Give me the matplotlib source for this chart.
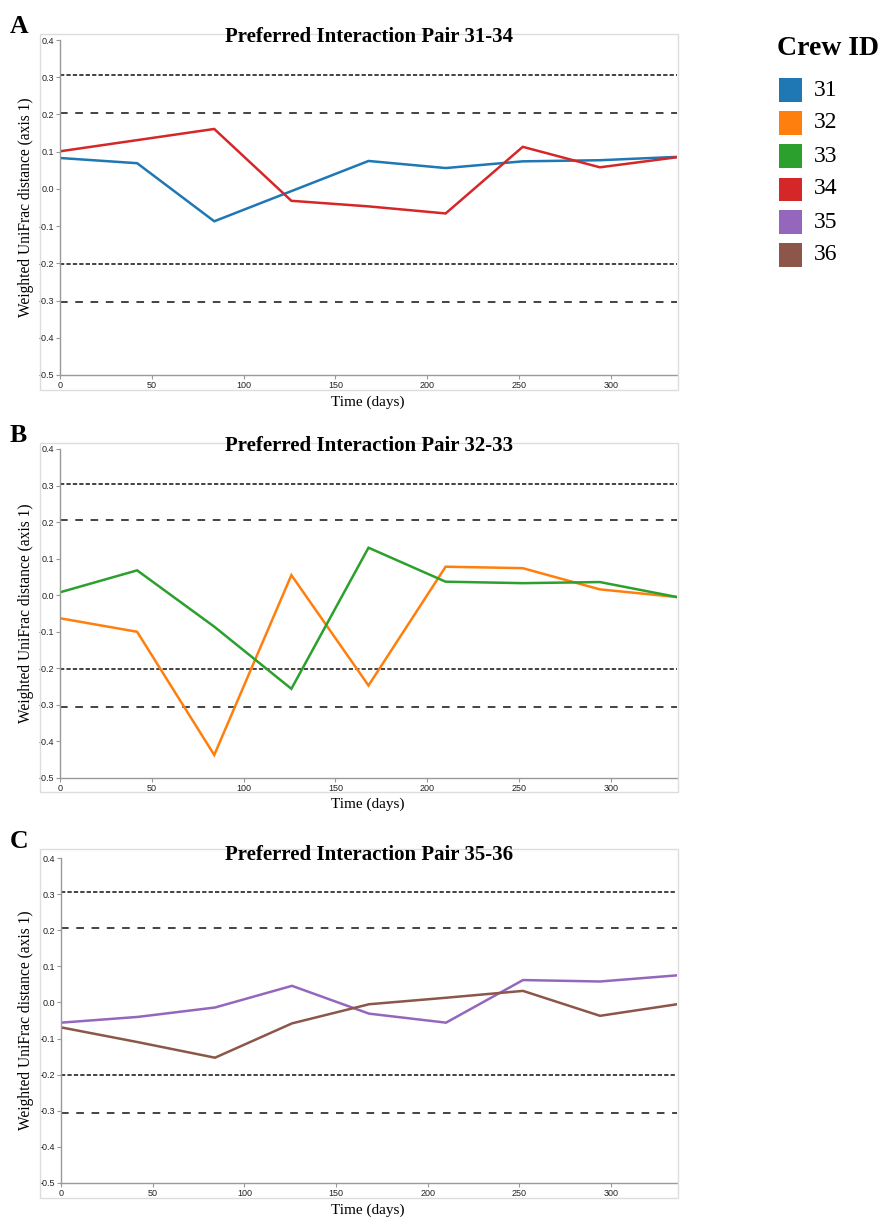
import matplotlib
matplotlib.use("Agg")
import matplotlib.pyplot as plt
from matplotlib.patches import Rectangle
from matplotlib.ticker import FormatStrFormatter

# dane
days = [0, 42, 84, 126, 168, 210, 252, 294, 336]

crew_ids = ["31", "32", "33", "34", "35", "36"]
crew_colors = ["#1f77b4", "#ff7f0e", "#2ca02c", "#d62728", "#9467bd", "#8c564b"]

crew31 = [0.083, 0.069, -0.087, -0.006, 0.075, 0.056, 0.074, 0.077, 0.086]
crew34 = [0.101, 0.131, 0.161, -0.032, -0.047, -0.066, 0.113, 0.058, 0.085]
crew32 = [-0.063, -0.100, -0.437, 0.055, -0.247, 0.078, 0.074, 0.016, -0.005]
crew33 = [0.008, 0.068, -0.086, -0.256, 0.130, 0.037, 0.033, 0.036, -0.005]
crew35 = [-0.056, -0.040, -0.014, 0.046, -0.031, -0.056, 0.062, 0.058, 0.075]
crew36 = [-0.069, -0.110, -0.153, -0.058, -0.005, 0.013, 0.032, -0.037, -0.005]

short_dash_levels = [0.305, -0.202]
long_dash_levels = [0.205, -0.305]

panel_letters = ["A", "B", "C"]
panel_titles = ["Preferred Interaction Pair 31-34",
                "Preferred Interaction Pair 32-33",
                "Preferred Interaction Pair 35-36"]
panel_series = [[(crew31, 0), (crew34, 3)],
                [(crew32, 1), (crew33, 2)],
                [(crew35, 4), (crew36, 5)]]

y_ticks = [0.4, 0.3, 0.2, 0.1, 0.0, -0.1, -0.2, -0.3, -0.4, -0.5]
x_ticks = [0, 50, 100, 150, 200, 250, 300]

W, H = 880, 1222
fig = plt.figure(figsize=(W / 100, H / 100), dpi=100)
serif = "Liberation Serif"
sans = "Liberation Sans"


def fx(px):
    return px / W


def fy(py):
    return 1 - py / H


# pozycje paneli w pikselach: (lewa os, gora, dol, ramka gora, ramka dol)
layouts = [(60, 40, 375, 34, 390),
           (60, 449, 778, 443, 792),
           (61, 858, 1183, 849, 1198)]
right = 677

for i, (x0, top, bot, ftop, fbot) in enumerate(layouts):
    # jasna ramka dookola
    fig.add_artist(Rectangle((fx(40), fy(fbot)), fx(678 - 40), (fbot - ftop) / H,
                             transform=fig.transFigure, fill=False,
                             edgecolor="#dddddd", linewidth=1.0))

    ax = fig.add_axes([fx(x0), fy(bot), fx(right - x0), (bot - top) / H])
    ax.patch.set_alpha(0)
    ax.set_xlim(0, 336)
    ax.set_ylim(-0.5, 0.4)
    for s in ["top", "right"]:
        ax.spines[s].set_visible(False)
    for s in ["left", "bottom"]:
        ax.spines[s].set_color("#999999")
        ax.spines[s].set_linewidth(1.0)
    ax.set_yticks(y_ticks)
    ax.set_xticks(x_ticks)
    ax.yaxis.set_major_formatter(FormatStrFormatter("%.1f"))
    ax.tick_params(colors="#999999", length=3, width=0.8, pad=1,
                   labelsize=6.5, labelcolor="#222222")
    for lab in ax.get_xticklabels() + ax.get_yticklabels():
        lab.set_family(sans)

    for lvl in short_dash_levels:
        ax.axhline(lvl, color="#111111", linewidth=1.1, dashes=(2.8, 1.4))
    for lvl in long_dash_levels:
        ax.axhline(lvl, color="#111111", linewidth=1.1, dashes=(5, 5))

    for values, ci in panel_series[i]:
        ax.plot(days, values, color=crew_colors[ci], linewidth=1.8,
                solid_joinstyle="miter")

    ax.set_ylabel("Weighted UniFrac distance (axis 1)", family=serif,
                  fontsize=11.2)
    ax.yaxis.set_label_coords((34 - x0) / (right - x0), 0.5)

    fig.text(fx(368), fy(fbot + 16), "Time (days)", family=serif,
             fontsize=11, ha="center", va="baseline")
    fig.text(fx(369), fy(top + 2), panel_titles[i], family=serif,
             fontsize=15, fontweight="bold", ha="center", va="baseline")
    fig.text(fx(10), fy(ftop - 1), panel_letters[i], family=serif,
             fontsize=18.5, fontweight="bold", ha="left", va="baseline")

# legenda
fig.text(fx(777), fy(55), "Crew ID", family=serif, fontsize=20,
         fontweight="bold", ha="left", va="baseline")
for k, (cid, col) in enumerate(zip(crew_ids, crew_colors)):
    yc = 90 + 33 * k
    fig.add_artist(Rectangle((fx(779), fy(yc + 11.5)), fx(23), 23 / H,
                             transform=fig.transFigure, facecolor=col,
                             edgecolor="none"))
    fig.text(fx(814), fy(yc), cid, family=serif, fontsize=17,
             ha="left", va="center")

fig.savefig("out.png", dpi=100)
